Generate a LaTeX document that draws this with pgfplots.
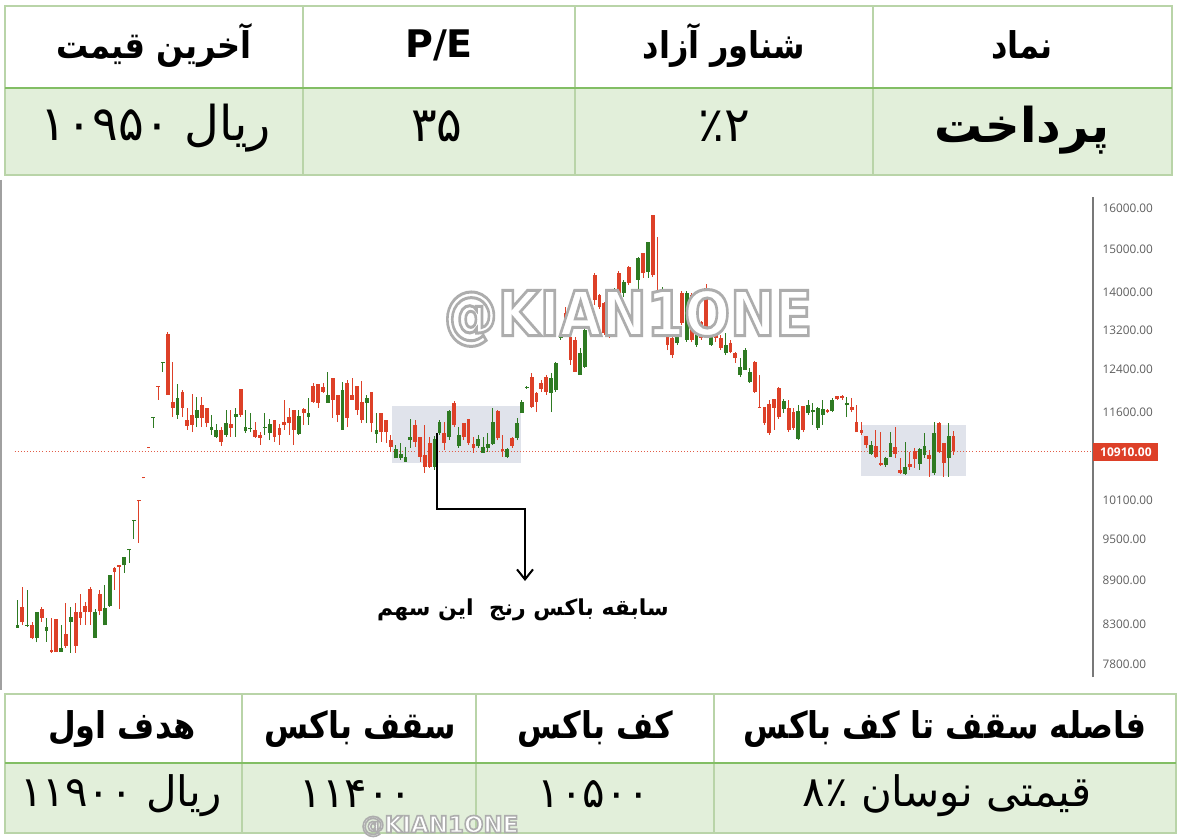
\documentclass[border=0pt]{standalone}
\usepackage{fontspec}
\usepackage{pgfplots}
\usepackage{pgfplotstable}
\pgfplotsset{compat=1.18}
\usetikzlibrary{arrows.meta}
\TeXXeTstate=1
\newfontfamily\fa[Script=Arabic]{DejaVu Sans}
\newfontfamily\tickfont{Open Sans}
\newfontfamily\markfont{DejaVu Sans}

\definecolor{upc}{RGB}{46,122,34}
\definecolor{dnc}{RGB}{221,64,40}
\definecolor{gridline}{RGB}{185,212,168}
\definecolor{sepline}{RGB}{130,190,100}
\definecolor{rowfill}{RGB}{226,239,218}
\definecolor{boxfill}{RGB}{224,227,235}
\definecolor{tickgray}{RGB}{95,95,95}
\definecolor{axisgray}{RGB}{120,120,120}

% white letters with a thin grey outline (fill + stroke text mode)
\newcommand\outlined[2]{\special{pdf:literal direct 2 Tr #1 w 0.68 0.68 0.68 RG}#2\special{pdf:literal direct 0 Tr}}

% rising sessions: index, open, high, low, close
\pgfplotstableread{
i o h l c
0 8260 8630 8260 8300
2 8290 8770 8270 8300
4 8130 8470 8070 8460
6 8220 8390 8080 8270
9 7950 8300 7950 8000
11 8340 8540 7940 8400
16 8130 8500 8130 8460
18 8290 8840 8290 8520
19 8550 8980 8540 8980
22 9110 9240 9010 9240
23 9330 9350 9150 9350
24 9770 9790 9500 9790
28 11490 11510 11320 11510
30 12530 12550 12360 12550
33 11550 12130 11480 11860
37 11500 11880 11330 11640
40 11280 11550 11190 11330
41 11160 11390 11140 11280
43 11190 11640 11160 11400
45 11510 11680 11160 11570
47 11260 11640 11230 11330
48 11300 11590 11240 11320
51 11320 11590 11190 11335
52 11230 11480 11100 11390
58 11210 11640 11190 11530
60 11510 11860 11370 11590
64 11770 12360 11770 11920
67 11280 12170 11280 12010
72 11770 11920 11400 11860
74 11210 11590 11050 11280
78 10790 11020 10790 10950
79 10790 11050 10760 10860
80 10730 10980 10730 10810
81 11100 11480 10970 11160
86 10640 11170 10590 11120
87 11230 11460 11190 11420
89 11160 11640 11100 11620
91 11000 11330 10970 11190
95 11000 11190 10970 11120
96 10880 11160 10880 10980
97 10970 11230 10900 11030
98 11030 11680 11020 11420
101 10810 10970 10790 10950
103 11140 11500 11100 11400
104 11590 11830 11590 11790
105 12050 12080 12040 12070
110 11960 12340 11600 12240
111 12010 12550 11980 12540
112 13040 13120 13000 13080
116 12300 12840 12300 12730
117 12460 13250 12440 13200
118 13200 13650 13180 13630
123 13730 14100 13700 14060
125 14000 14290 13910 14240
127 13840 13930 13820 13910
128 14290 14810 13950 14790
130 14470 15170 14330 15170
133 13520 14130 13520 13670
136 12940 13200 12900 13060
138 13000 14050 12960 14000
140 12900 13410 12860 13160
143 12900 13250 12880 13200
146 12730 13140 12690 12900
149 12300 12630 12260 12460
150 12400 12840 12400 12790
151 12170 12440 12150 12360
158 11660 11840 11590 11810
161 11120 11730 11100 11620
163 11590 11830 11550 11730
164 11600 11770 11370 11640
165 11320 11700 11280 11680
166 11550 11830 11370 11660
168 11620 11860 11600 11830
171 11730 11880 11510 11770
176 10860 11090 10850 11020
179 10680 10810 10640 10790
180 10810 11240 10810 11050
183 10530 11070 10510 10640
186 10690 10970 10590 10950
187 10850 11230 10790 11000
189 10540 11420 10510 11230
192 10790 11400 10480 11170
}\upcandles

% falling sessions: index, open, high, low, close
\pgfplotstableread{
i o h l c
1 8540 8810 8300 8330
3 8290 8330 8110 8130
5 8510 8540 8340 8390
7 7970 8390 7940 7950
8 8380 8380 7950 7950
10 8180 8590 8000 8030
12 8460 8590 7940 8030
13 8460 8710 8300 8390
14 8550 8600 8300 8460
15 8780 8810 8300 8460
17 8710 8770 8430 8480
20 9080 9090 8770 9020
21 9120 9120 8500 9090
25 10100 10100 9440 10080
26 10470 10470 10450 10450
27 10980 10980 10960 10960
29 12090 12090 11830 12070
31 13120 13160 11920 11920
32 11790 12550 11510 11680
34 11980 12010 11510 11680
35 11460 11680 11280 11350
36 11550 11940 11240 11370
38 11730 11880 11330 11500
39 11680 11680 11330 11400
42 11280 11330 11000 11070
44 11390 11640 11160 11320
46 12030 12030 11510 11550
49 11280 11420 11140 11160
50 11190 11240 11020 11140
53 11460 11460 11070 11160
54 11320 11390 11020 11190
55 11420 11830 11280 11370
56 11510 11680 11190 11400
57 11640 11640 11020 11280
59 11660 11680 11370 11590
61 12090 12150 11770 11790
62 12130 12130 11680 11770
63 12070 12150 11960 11980
65 12240 12240 11500 11830
66 11920 11920 11420 11550
68 12150 12200 11330 11500
69 11920 12240 11830 11830
70 12090 12090 11550 11640
71 11790 12180 11400 11460
73 11980 11980 11240 11400
75 11590 11590 11070 11240
76 11460 11460 11050 11240
77 11100 11190 10900 10980
82 11370 11460 10980 11070
83 11160 11160 10730 10810
84 10850 11370 10540 10640
85 11050 11160 10630 10640
88 11230 11420 10930 11050
90 11770 11810 11330 11370
92 11400 11400 11100 11160
93 11480 11480 11020 11050
94 11030 11160 10880 10970
99 11620 11640 11100 11140
100 10950 11190 10810 10910
102 11140 11160 10970 11000
106 12260 12340 11680 11700
107 11960 11980 11600 11790
108 12150 12200 11980 12030
109 12260 12300 11920 11980
113 13560 13690 13310 13350
114 13060 13100 12500 12590
115 13000 13060 12360 12360
119 14400 14440 13730 13840
120 13940 13980 13650 13690
121 13780 13800 13100 13140
122 13580 13600 13040 13060
124 14440 14490 13950 14000
126 14580 14600 14170 14220
129 14910 14910 14330 14440
131 15820 15820 14350 14400
132 13930 15290 13890 13910
134 13060 13200 12790 12900
135 13040 13100 12630 12690
137 14000 14050 13300 13350
139 13950 14000 12960 13000
141 13370 13400 13000 13040
142 14110 14200 13250 13270
144 13100 13200 12960 13040
145 13040 13100 12790 12840
147 12940 13000 12730 12750
148 12730 12750 12540 12630
152 12550 12570 11960 11980
153 11700 12300 11680 11690
154 11700 11700 11370 11400
155 11750 11830 11190 11230
156 11840 11840 11280 11680
157 12050 12070 11480 11510
159 11680 11830 11240 11280
160 11600 11680 11280 11320
162 11710 11710 11240 11280
167 11640 11660 11590 11600
169 11900 11900 11830 11840
170 11900 11920 11830 11860
172 11700 11860 11600 11640
173 11420 11730 11240 11240
174 11280 11420 11190 11230
175 11170 11170 10970 11020
177 11000 11280 10790 10810
178 10710 11240 10660 10680
181 10980 11330 10790 10860
182 10590 10790 10530 10540
184 10690 10900 10590 10640
185 10910 10970 10630 10780
188 10850 10930 10480 10780
190 11400 11420 10880 10900
191 11050 11050 10480 10710
193 11170 11260 10850 10910
}\downcandles

% last traded price
\pgfplotstableread{
i p
-0.6 10910
221.75 10910
}\lastprice

\newcommand\hdr{\fa\bfseries\fontsize{16}{18}\selectfont}
\newcommand\bhdr{\fa\bfseries\fontsize{16}{18}\selectfont}
\newcommand\val{\fa\fontsize{24}{26}\selectfont}
\newcommand\bval{\fa\fontsize{21}{23}\selectfont}

\pgfplotsset{
  candle/.style={draw=none, mark=none, forget plot,
    error bars/.cd, y dir=plus, y explicit, error mark=none,
    error bar style={draw=#1, solid, line width=0.5pt}},
  body/.style={draw=none, mark=none, forget plot,
    error bars/.cd, y dir=plus, y explicit, error mark=none,
    error bar style={draw=#1, solid, line width=1.9pt}},
}

\begin{document}
\begin{tikzpicture}
% ---------- page, tables, chart backdrop (pixel grid, y downwards) ----------
\begin{scope}[x=0.5pt,y=-0.5pt]
  \fill[white] (0,0) rectangle (1178,839);
  % top summary table
  \fill[rowfill] (5,88) rectangle (1172,175);
  \draw[gridline, line width=0.6pt] (5,6) rectangle (1172,175);
  \foreach \cx in {303,575,873} \draw[gridline, line width=0.6pt] (\cx,6) -- (\cx,175);
  \draw[sepline, line width=1.4pt] (5,88) -- (1172,88);
  % bottom summary table
  \fill[rowfill] (5,763) rectangle (1176,833);
  \draw[gridline, line width=0.6pt] (5,694) rectangle (1176,833);
  \foreach \cx in {242,476,714} \draw[gridline, line width=0.6pt] (\cx,694) -- (\cx,833);
  \draw[sepline, line width=1.4pt] (5,763) -- (1176,763);
  % chart frame edge
  \draw[axisgray!70, line width=1pt] (1,180) -- (1,690);
  % range boxes
  \fill[boxfill] (392,406) rectangle (521,463);
  \fill[boxfill] (861,425) rectangle (966,476);

  % table texts
  \node[font=\hdr, yscale=1.15] at (154,45) {\beginR آخرین قیمت\endR};
  \node[font=\fa\bfseries\fontsize{19}{21}\selectfont] at (439,45) {P/E};
  \node[font=\hdr, yscale=1.15] at (724,45) {\beginR شناور آزاد\endR};
  \node[font=\hdr, yscale=1.15] at (1022,45) {\beginR نماد\endR};
  \node[font=\val] at (156,128) {\beginR ریال \beginL۱۰۹۵۰\endL\endR};
  \node[font=\val] at (437,126) {\beginL۳۵\endL};
  \node[font=\val] at (724,126) {\beginL\mbox{٪}\mbox{۲}\endL};
  \node[font=\fa\bfseries\fontsize{24}{26}\selectfont] at (1022,130) {\beginR پرداخت\endR};

  \node[font=\bhdr, yscale=1.15] at (122,729) {\beginR هدف اول\endR};
  \node[font=\bhdr, yscale=1.15] at (360,729) {\beginR سقف باکس\endR};
  \node[font=\bhdr, yscale=1.15] at (595,729) {\beginR کف باکس\endR};
  \node[font=\bhdr, yscale=1.15] at (945,729) {\beginR فاصله سقف تا کف باکس\endR};
  \node[font=\bval, inner sep=0pt] at (121,796) {\beginR ریال \beginL۱۱۹۰۰\endL\endR};
  \node[font=\bval, inner sep=0pt] at (356,794) {\beginL۱۱۴۰۰\endL};
  \node[font=\bval, inner sep=0pt] at (594,794) {\beginL۱۰۵۰۰\endL};
  \node[font=\bval, inner sep=0pt] at (947,796) {\beginR قیمتی نوسان \beginL\mbox{۸}\mbox{٪}\endL\endR};
\end{scope}

% ---------- candlestick chart ----------
\begin{axis}[
  at={(0pt,-338.5pt)}, anchor=south west,
  scale only axis, width=546.5pt, height=240pt,
  xmin=-3.608, xmax=221.753,
  ymin=8.941412, ymax=9.697675,
  axis x line=none,
  axis y line*=right,
  y axis line style={axisgray, line width=0.6pt, -},
  ytick={9.680344,9.615805,9.546812,9.487972,9.425451,9.358760,9.220290,9.159047,9.093806,9.024011,8.961879},
  yticklabels={16000.00,15000.00,14000.00,13200.00,12400.00,11600.00,10100.00,9500.00,8900.00,8300.00,7800.00},
  major tick length=0pt,
  yticklabel style={font=\tickfont\fontsize{5.9}{7}\selectfont, text=tickgray, anchor=west, inner sep=0pt, xshift=4.6pt},
]
  \addplot[dnc!85, line width=0.45pt, dash pattern=on 0.45pt off 1.1pt, forget plot]
    table[x=i, y expr={ln(\thisrow{p})}] {\lastprice};
  % wicks: low to high
  \addplot[candle=upc]
    table[x=i, y expr={ln(\thisrow{l})}, y error plus expr={ln(\thisrow{h})-ln(\thisrow{l})}] {\upcandles};
  \addplot[candle=dnc]
    table[x=i, y expr={ln(\thisrow{l})}, y error plus expr={ln(\thisrow{h})-ln(\thisrow{l})}] {\downcandles};
  % bodies: open to close
  \addplot[body=upc]
    table[x=i, y expr={ln(\thisrow{o})}, y error plus expr={ln(\thisrow{c})-ln(\thisrow{o})}] {\upcandles};
  \addplot[body=dnc]
    table[x=i, y expr={ln(\thisrow{c})}, y error plus expr={ln(\thisrow{o})-ln(\thisrow{c})}] {\downcandles};
\end{axis}

% ---------- overlays ----------
\begin{scope}[x=0.5pt,y=-0.5pt]
  % last price tag
  \node[fill=dnc, text=white, font=\tickfont\bfseries\fontsize{6}{7}\selectfont,
        minimum width=32.5pt, minimum height=9pt, inner sep=0pt, anchor=west] at (1093,452) {10910.00};
  % watermark
  \node[text=white, font=\markfont\bfseries\fontsize{27}{30}\selectfont, yscale=1.15]
    at (628,318) {\outlined{1.3}{@KIAN1ONE}};
  \node[text=white, font=\markfont\bfseries\fontsize{11.5}{13}\selectfont, inner sep=0pt]
    at (440,826) {\outlined{0.8}{@KIAN1ONE}};
  % range note
  \draw[black, line width=1pt, -{Straight Barb[length=5pt, width=8pt, line width=1pt]}]
    (437,433) -- (437,509) -- (525,509) -- (525,581);
  \node[font=\fa\bfseries\fontsize{11}{13}\selectfont] at (523,610) {\beginR سابقه باکس رنج\ \ این سهم\endR};
\end{scope}
\end{tikzpicture}
\end{document}
